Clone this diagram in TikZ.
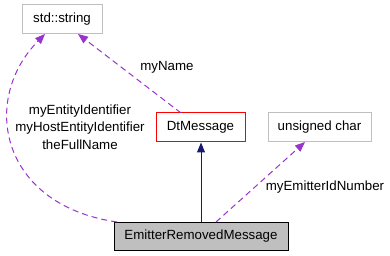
\documentclass[tikz,border=0pt]{standalone}
\usepackage{fontspec}
\setmainfont{Liberation Sans}
\usetikzlibrary{arrows.meta}
\definecolor{usecol}{HTML}{9A32CD}
\definecolor{navy}{HTML}{191970}
\definecolor{graybd}{HTML}{BFBFBF}
\begin{document}
\begin{tikzpicture}[x=1pt,y=-1pt,
  box/.style={draw=graybd,line width=1pt,minimum height=29pt,inner sep=0pt,font=\fontsize{13.3}{17}\selectfont},
  lbl/.style={font=\fontsize{13.3}{17.5}\selectfont,inner sep=0pt,align=center},
  use/.style={draw=usecol,dash pattern=on 6pt off 4pt,line width=1pt,-{Triangle[length=10pt,width=8pt,fill=usecol]}},
  inh/.style={draw=navy,line width=1pt,-{Triangle[length=10pt,width=8pt,fill=navy]}}]
\useasboundingbox (0,0) rectangle (390,256);
\node[box,minimum width=80pt] (str) at (62,19.5) {std::string};
\node[box,draw=red,minimum width=89pt] (dt) at (200.5,127.5) {DtMessage};
\node[box,minimum width=103pt] (uc) at (319.5,127.5) {unsigned char};
\node[box,draw=black,fill=graybd,minimum width=174pt,minimum height=28pt] (em) at (201,236) {EmitterRemovedMessage};
\draw[inh] (em.north -| 201,0) -- (dt.south -| 201,0);
\coordinate (dttop) at (181,113);
\coordinate (strb1) at (78,34);
\draw[use] (dttop) -- (strb1);
\coordinate (emtl) at (117,222);
\coordinate (strb2) at (45,34);
\draw[use] (emtl) .. controls (0,205) and (-20,100) .. (strb2);
\coordinate (emtr) at (216,222);
\coordinate (ucb) at (305,142);
\draw[use] (emtr) -- (ucb);
\node[lbl] (l1) at (167,67) {myName};
\node[lbl] (l2) at (80,127) {myEntityIdentifier\\myHostEntityIdentifier\\theFullName};
\node[lbl] (l3) at (325,187) {myEmitterIdNumber};
\end{tikzpicture}
\end{document}
